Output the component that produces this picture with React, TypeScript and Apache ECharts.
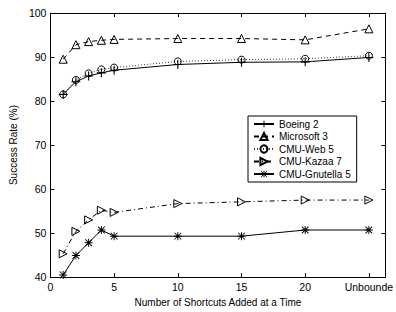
import React, { useEffect, useRef } from 'react';
import * as echarts from 'echarts';

const xValues = [1, 2, 3, 4, 5, 10, 15, 20, 25];
const boeing = [81.5, 84.4, 85.7, 86.4, 87.0, 88.3, 88.8, 88.9, 89.9];
const microsoft = [89.5, 92.8, 93.5, 93.8, 94.0, 94.2, 94.2, 93.9, 96.4];
const cmuWeb = [81.5, 84.8, 86.3, 87.2, 87.6, 89.0, 89.4, 89.6, 90.3];
const kazaa = [45.3, 50.4, 53.0, 55.2, 54.7, 56.7, 57.1, 57.5, 57.5];
const gnutella = [40.5, 44.9, 47.8, 50.7, 49.3, 49.3, 49.3, 50.7, 50.7];
const seriesNames = ['Boeing 2', 'Microsoft 3', 'CMU-Web 5', 'CMU-Kazaa 7', 'CMU-Gnutella 5'];
const xTickLabels: Record<number, string> = { 0: '0', 5: '5', 10: '10', 15: '15', 20: '20', 25: 'Unbounde' };

const FONT = 'Liberation Sans, Arial, Helvetica, sans-serif';

const plusPath = 'path://M0,4.4L10,4.4L10,5.6L0,5.6Z M4.4,0L5.6,0L5.6,10L4.4,10Z';
const starPath =
  'path://M0,4.4L10,4.4L10,5.6L0,5.6Z M4.4,0L5.6,0L5.6,10L4.4,10Z M0.4,1.2L1.2,0.4L9.6,8.8L8.8,9.6Z M8.8,0.4L9.6,1.2L1.2,9.6L0.4,8.8Z';
const rightTriPath = 'path://M0,0L10,5L0,10Z';

function pairs(ys: number[]) {
  return xValues.map((x, i) => [x, ys[i]]);
}

export default function App() {
  const ref = useRef<HTMLDivElement>(null);
  useEffect(() => {
    if (!ref.current) return;
    const chart = echarts.init(ref.current, null, { renderer: 'svg' });
    const axisCommon = {
      axisLine: { show: true, onZero: false, lineStyle: { color: '#000', width: 1 } },
      axisTick: { show: true, inside: true, length: 4, lineStyle: { color: '#000' } },
      splitLine: { show: false },
    };
    const hollowStyle = { color: 'rgba(255,255,255,0)', borderColor: '#000', borderWidth: 1 };
    const filledStyle = { color: '#000', borderColor: '#000', borderWidth: 0 };
    chart.setOption({
      animation: false,
      backgroundColor: '#fff',
      textStyle: { fontFamily: FONT },
      grid: { left: 48, top: 13, right: 5, bottom: 29, containLabel: false },
      legend: {
        orient: 'vertical',
        left: 248,
        top: 116,
        width: 115,
        padding: [3, 6, 3, 5],
        itemGap: 2.5,
        itemWidth: 20,
        itemHeight: 9,
        borderColor: '#000',
        borderWidth: 1,
        backgroundColor: '#fff',
        data: seriesNames,
        textStyle: { fontFamily: FONT, fontSize: 10, color: '#000' },
      },
      xAxis: [
        {
          type: 'value',
          min: 0,
          max: 26.3,
          interval: 5,
          position: 'bottom',
          ...axisCommon,
          axisLabel: {
            color: '#000',
            fontSize: 10.5,
            fontFamily: FONT,
            margin: 4,
            showMaxLabel: false,
            formatter: (v: number) => xTickLabels[v] ?? '',
          },
          name: 'Number of Shortcuts Added at a Time',
          nameLocation: 'middle',
          nameGap: 16,
          nameTextStyle: { color: '#000', fontSize: 10, fontFamily: FONT },
        },
        {
          type: 'value',
          min: 0,
          max: 26.3,
          interval: 5,
          position: 'top',
          ...axisCommon,
          axisLabel: { show: false },
        },
      ],
      yAxis: [
        {
          type: 'value',
          min: 40,
          max: 100,
          interval: 10,
          position: 'left',
          ...axisCommon,
          axisLabel: { color: '#000', fontSize: 10.5, fontFamily: FONT, margin: 4 },
          name: 'Success Rate (%)',
          nameLocation: 'middle',
          nameGap: 24,
          nameTextStyle: { color: '#000', fontSize: 10, fontFamily: FONT },
        },
        {
          type: 'value',
          min: 40,
          max: 100,
          interval: 10,
          position: 'right',
          ...axisCommon,
          axisLabel: { show: false },
        },
      ],
      series: [
        {
          name: seriesNames[1],
          type: 'line',
          data: pairs(microsoft),
          symbol: 'triangle',
          symbolSize: 8,
          showAllSymbol: true,
          lineStyle: { color: '#000', width: 1, type: [5, 4] },
          itemStyle: hollowStyle,
        },
        {
          name: seriesNames[2],
          type: 'line',
          data: pairs(cmuWeb),
          symbol: 'circle',
          symbolSize: 7,
          showAllSymbol: true,
          lineStyle: { color: '#333', width: 1, type: [1, 2] },
          itemStyle: hollowStyle,
        },
        {
          name: seriesNames[3],
          type: 'line',
          data: pairs(kazaa),
          symbol: rightTriPath,
          symbolSize: 8,
          showAllSymbol: true,
          lineStyle: { color: '#000', width: 1, type: [5, 3, 1, 3] },
          itemStyle: hollowStyle,
        },
        {
          name: seriesNames[4],
          type: 'line',
          data: pairs(gnutella),
          symbol: starPath,
          symbolSize: 8,
          showAllSymbol: true,
          lineStyle: { color: '#000', width: 1, type: 'solid' },
          itemStyle: filledStyle,
        },
        {
          name: seriesNames[0],
          type: 'line',
          data: pairs(boeing),
          symbol: plusPath,
          symbolSize: 9,
          showAllSymbol: true,
          lineStyle: { color: '#000', width: 1, type: 'solid' },
          itemStyle: filledStyle,
        },
      ],
    });
    return () => chart.dispose();
  }, []);
  return (
    <div
      ref={ref}
      style={{ position: 'fixed', left: 0, top: 0, width: 396, height: 312, background: '#fff' }}
    />
  );
}
